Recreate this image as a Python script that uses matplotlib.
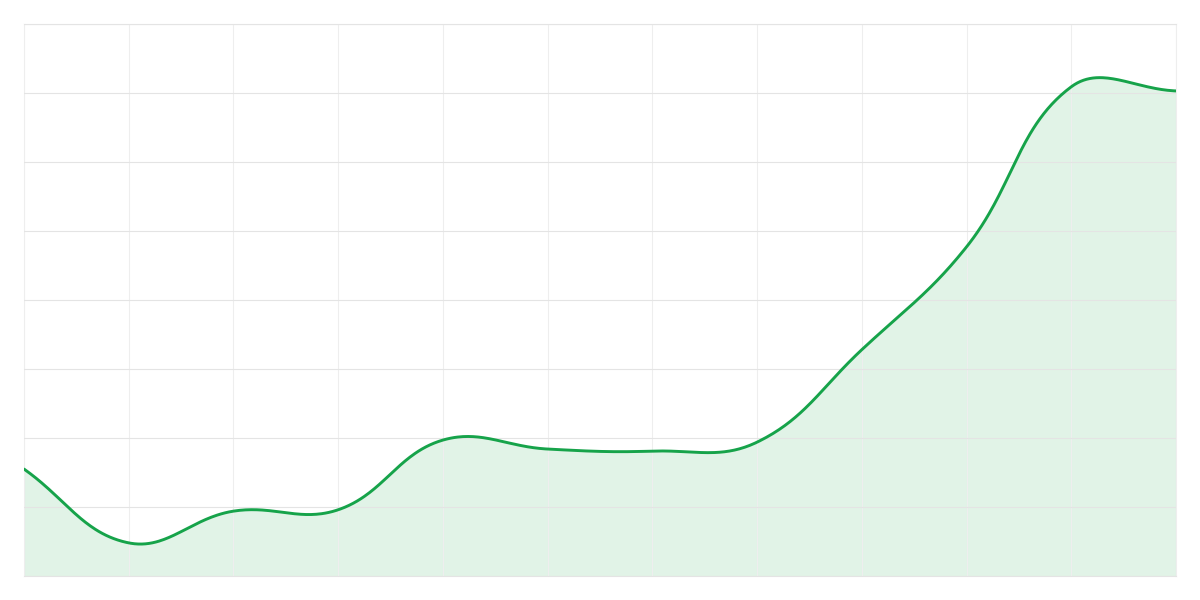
import numpy as np
import matplotlib

matplotlib.use("Agg")
import matplotlib.pyplot as plt  # noqa: E402

# values, one per vertical grid line
x_idx = list(range(12))
values = [1.55, 0.48, 0.94, 0.96, 1.97, 1.84, 1.81, 1.94, 3.28, 4.77, 7.09, 7.03]

LINE = "#16a34a"
FILL = "#e1f3e7"


def spline_path(xs, ys, sx, sy, tension=0.4, steps=60):
    # chart.js style cardinal spline, distances measured in pixel space
    px = np.asarray(xs, float) * sx
    py = np.asarray(ys, float) * sy
    n = len(px)
    c1 = []
    c2 = []
    for i in range(n):
        p = (px[max(i - 1, 0)], py[max(i - 1, 0)])
        c = (px[i], py[i])
        nx = (px[min(i + 1, n - 1)], py[min(i + 1, n - 1)])
        d01 = np.hypot(c[0] - p[0], c[1] - p[1])
        d12 = np.hypot(nx[0] - c[0], nx[1] - c[1])
        tot = d01 + d12 if d01 + d12 else 1.0
        fa = tension * d01 / tot
        fb = tension * d12 / tot
        c1.append((c[0] - fa * (nx[0] - p[0]), c[1] - fa * (nx[1] - p[1])))
        c2.append((c[0] + fb * (nx[0] - p[0]), c[1] + fb * (nx[1] - p[1])))
    out_x, out_y = [], []
    t = np.linspace(0, 1, steps)
    for i in range(n - 1):
        p0 = (px[i], py[i])
        p1 = c2[i]
        p2 = c1[i + 1]
        p3 = (px[i + 1], py[i + 1])
        bx = ((1 - t) ** 3 * p0[0] + 3 * (1 - t) ** 2 * t * p1[0]
              + 3 * (1 - t) * t ** 2 * p2[0] + t ** 3 * p3[0])
        by = ((1 - t) ** 3 * p0[1] + 3 * (1 - t) ** 2 * t * p1[1]
              + 3 * (1 - t) * t ** 2 * p2[1] + t ** 3 * p3[1])
        out_x.extend(bx)
        out_y.extend(by)
    return np.array(out_x) / sx, np.array(out_y) / sy


fig = plt.figure(figsize=(12, 6), dpi=100)
ax = fig.add_axes([0.02, 0.04, 0.96, 0.92])

cx, cy = spline_path(x_idx, values, 104.7, 69.0)
ax.fill_between(cx, cy, 0, color=FILL, lw=0, zorder=1)
ax.plot(cx, cy, color=LINE, lw=2.1, zorder=3, solid_capstyle="round")

ax.set_xlim(0, 11)
ax.set_ylim(0, 8)
ax.set_xticks(x_idx)
ax.set_yticks(range(0, 9))
ax.tick_params(length=0, labelbottom=False, labelleft=False)
ax.xaxis.grid(True, color="#eeeeee", lw=0.8, zorder=2)
ax.yaxis.grid(True, color="#e4e4e4", lw=0.8, zorder=2)
ax.set_axisbelow(False)
for side in ax.spines.values():
    side.set_color("#e4e4e4")
    side.set_linewidth(0.8)
ax.spines["left"].set_color("#eeeeee")
ax.spines["right"].set_color("#eeeeee")

fig.savefig("out.png", dpi=100)
